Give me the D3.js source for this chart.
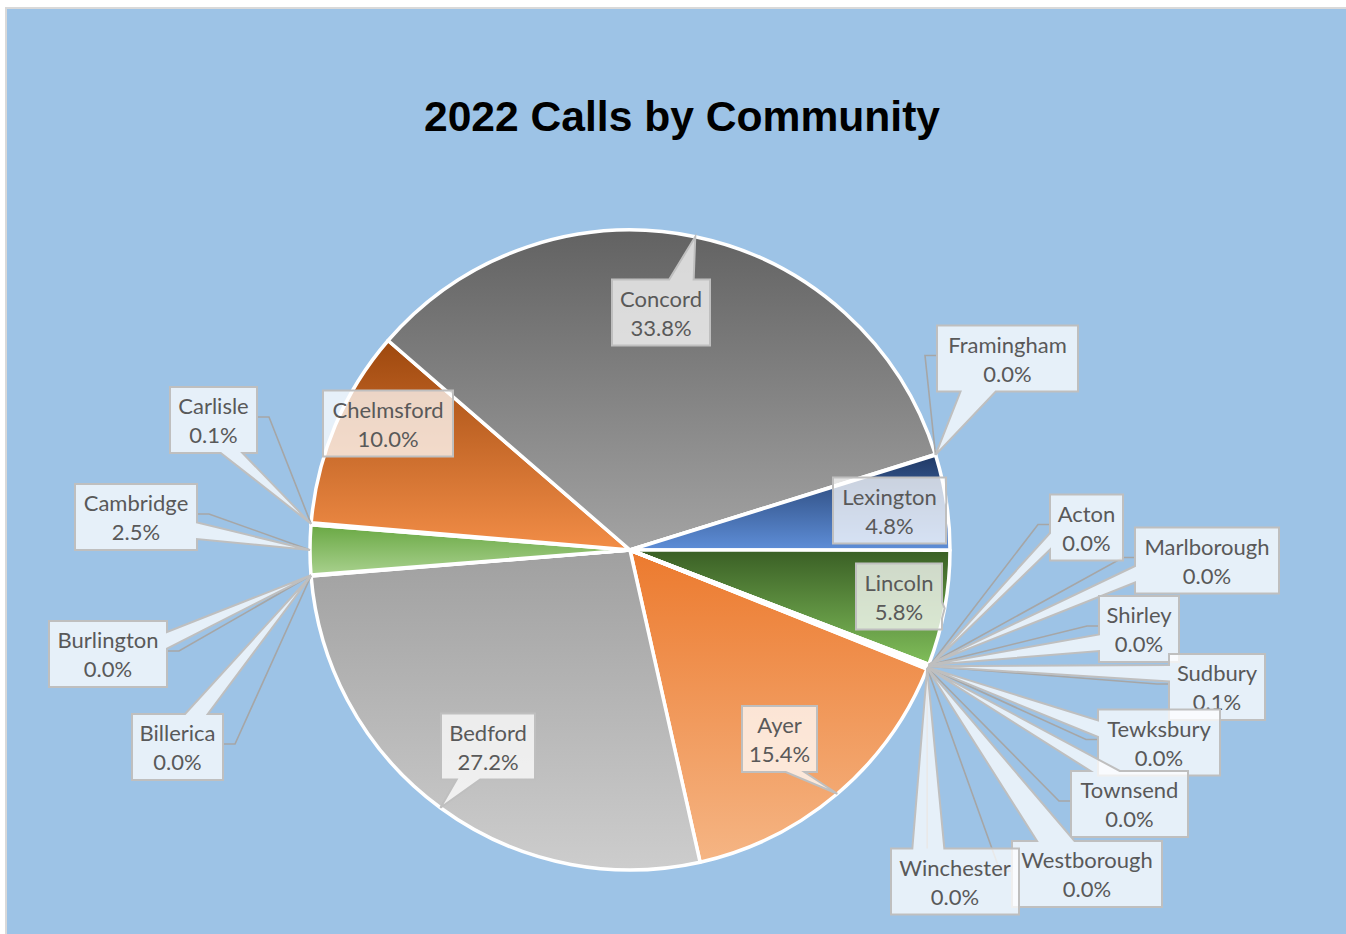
<!DOCTYPE html>
<html>
<head>
<meta charset="utf-8">
<script src="https://cdn.jsdelivr.net/npm/d3@7"></script>
<style>
  body { margin: 0; background: #ffffff; }
  svg { display: block; }
</style>
</head>
<body>
<div id="chart"></div>
<script>
// data: share of 2022 calls per community (percent)
const communities = ["Acton", "Ayer", "Bedford", "Billerica", "Burlington", "Cambridge",
  "Carlisle", "Chelmsford", "Concord", "Framingham", "Lexington", "Lincoln",
  "Marlborough", "Shirley", "Sudbury", "Tewksbury", "Townsend", "Westborough", "Winchester"];
const shares = [0.02, 15.4, 27.2, 0.03, 0.02, 2.5,
  0.1, 10.0, 33.8, 0.03, 4.8, 5.8,
  0.02, 0.03, 0.1, 0.02, 0.03, 0.02, 0.02];

// gradient stops per slice (top, bottom)
const gradTop = ["#2f5597", "#ec7a2e", "#a0a0a0", "#ffc000", "#5b9bd5", "#69a843",
  "#264478", "#9e480e", "#626262", "#997300", "#1f3864", "#3a5f25",
  "#2f5597", "#ec7a2e", "#a0a0a0", "#ffc000", "#5b9bd5", "#69a843", "#264478"];
const gradBottom = ["#8faadc", "#f5b584", "#cdcdcd", "#ffe699", "#bdd7ee", "#a9d18e",
  "#4472c4", "#f28d47", "#a3a3a3", "#ffd966", "#5e8ed8", "#80be5a",
  "#8faadc", "#f5b584", "#cdcdcd", "#ffe699", "#bdd7ee", "#a9d18e", "#4472c4"];

// label boxes: centre x, centre y, width
const labelBoxes = {
  Acton: [1086.5, 527.5, 73], Ayer: [779.5, 739, 75], Bedford: [488, 746.5, 94],
  Billerica: [177.5, 747, 91], Burlington: [108, 654, 118], Cambridge: [136, 517, 122],
  Carlisle: [213.5, 420, 87], Chelmsford: [388, 423.5, 130], Concord: [661, 312.5, 98],
  Framingham: [1007.5, 358.5, 141], Lexington: [889.5, 510.5, 113], Lincoln: [899, 596.5, 86],
  Marlborough: [1207, 560.5, 144], Shirley: [1139, 629, 80], Sudbury: [1217, 687, 96],
  Tewksbury: [1159, 742.5, 122], Townsend: [1129.5, 804, 117], Westborough: [1087, 874, 150],
  Winchester: [955, 881.5, 128]
};

const W = 1346, H = 934;
const CX = 630, CY = 550, R = 320;
const BOX_H = 66;
const LABEL_FONT = 'Lato, "Open Sans", sans-serif';
const TEXT_GREY = "#595959";

const svg = d3.select("#chart").append("svg")
  .attr("width", W)
  .attr("height", H);

svg.append("rect")
  .attr("x", 6).attr("y", 8)
  .attr("width", W + 10).attr("height", H + 10)
  .attr("fill", "#9dc3e6")
  .attr("stroke", "#d9d9d9")
  .attr("stroke-width", 2);

svg.append("text")
  .attr("x", 682)
  .attr("y", 131)
  .attr("text-anchor", "middle")
  .attr("font-family", '"Liberation Sans", Arial, sans-serif')
  .attr("font-weight", 700)
  .attr("font-size", 42.6)
  .attr("fill", "#000")
  .text("2022 Calls by Community");

const rows = communities.map((name, i) => ({ name, value: shares[i], i }));
const total = d3.sum(shares);
const fmt = d3.format(".1%");

const startDeg = 111.8;
const pie = d3.pie()
  .value(d => d.value)
  .sort(null)
  .startAngle(startDeg * Math.PI / 180)
  .endAngle((startDeg + 360) * Math.PI / 180);

const arc = d3.arc().innerRadius(0).outerRadius(R);
const arcs = pie(rows);

const defs = svg.append("defs");
arcs.forEach(a => {
  const g = defs.append("linearGradient")
    .attr("id", "grad" + a.data.i)
    .attr("x1", 0).attr("y1", 0).attr("x2", 0).attr("y2", 1);
  g.append("stop").attr("offset", "0%").attr("stop-color", gradTop[a.data.i]);
  g.append("stop").attr("offset", "100%").attr("stop-color", gradBottom[a.data.i]);
});

const pieG = svg.append("g").attr("transform", `translate(${CX},${CY})`);
pieG.selectAll("path")
  .data(arcs)
  .join("path")
  .attr("d", arc)
  .attr("fill", d => `url(#grad${d.data.i})`)
  .attr("stroke", "#fff")
  .attr("stroke-width", 3.5)
  .attr("stroke-linejoin", "round");

// tip of each callout: middle of the slice's outer arc
function tipOf(a) {
  const m = (a.startAngle + a.endAngle) / 2;
  return [CX + R * Math.sin(m), CY - R * Math.cos(m)];
}

// rectangle with a wedge towards (tx, ty), like the office wedgeRectCallout
function calloutPath(x, y, w, h, tx, ty) {
  const p = d3.path();
  const dxPos = tx - (x + w / 2), dyPos = ty - (y + h / 2);
  const inside = tx >= x && tx <= x + w && ty >= y && ty <= y + h;
  const horiz = Math.abs(dxPos * h) > Math.abs(dyPos * w);
  const x1 = x + w * (dxPos > 0 ? 7 : 2) / 12, x2 = x + w * (dxPos > 0 ? 10 : 5) / 12;
  const y1 = y + h * (dyPos > 0 ? 7 : 2) / 12, y2 = y + h * (dyPos > 0 ? 10 : 5) / 12;
  p.moveTo(x, y);
  if (!inside && !horiz && dyPos < 0) { p.lineTo(x1, y); p.lineTo(tx, ty); p.lineTo(x2, y); }
  p.lineTo(x + w, y);
  if (!inside && horiz && dxPos > 0) { p.lineTo(x + w, y1); p.lineTo(tx, ty); p.lineTo(x + w, y2); }
  p.lineTo(x + w, y + h);
  if (!inside && !horiz && dyPos > 0) { p.lineTo(x2, y + h); p.lineTo(tx, ty); p.lineTo(x1, y + h); }
  p.lineTo(x, y + h);
  if (!inside && horiz && dxPos < 0) { p.lineTo(x, y2); p.lineTo(tx, ty); p.lineTo(x, y1); }
  p.closePath();
  return p.toString();
}

const leaderG = svg.append("g");
const labelG = svg.append("g");

arcs.forEach(a => {
  const [cx, cy, w] = labelBoxes[a.data.name];
  const x = cx - w / 2, y = cy - BOX_H / 2;
  const [tx, ty] = tipOf(a);

  // leader line for labels pulled out of the pie
  if (Math.hypot(cx - CX, cy - CY) > R) {
    let pts;
    if (tx >= x && tx <= x + w) {
      pts = [[tx, ty], [tx, ty < y ? y : y + BOX_H]];
    } else if (cx > tx) {
      pts = [[tx, ty], [x - 12, cy - 3], [x, cy - 3]];
    } else {
      pts = [[tx, ty], [x + w + 12, cy - 3], [x + w, cy - 3]];
    }
    leaderG.append("path")
      .attr("d", d3.line()(pts))
      .attr("fill", "none")
      .attr("stroke", "#a6a6a6")
      .attr("stroke-width", 1.6);
  }

  labelG.append("path")
    .attr("d", calloutPath(x, y, w, BOX_H, tx, ty))
    .attr("fill", "#ffffff")
    .attr("fill-opacity", 0.75)
    .attr("stroke", "#bfbfbf")
    .attr("stroke-width", 2)
    .attr("stroke-linejoin", "miter");

  const t = labelG.append("text")
    .attr("text-anchor", "middle")
    .attr("font-family", LABEL_FONT)
    .attr("font-size", 22)
    .attr("fill", TEXT_GREY);
  t.append("tspan").attr("x", cx).attr("y", y + 27).text(a.data.name);
  t.append("tspan").attr("x", cx).attr("y", y + 56).text(fmt(a.data.value / total));
});
</script>
</body>
</html>
